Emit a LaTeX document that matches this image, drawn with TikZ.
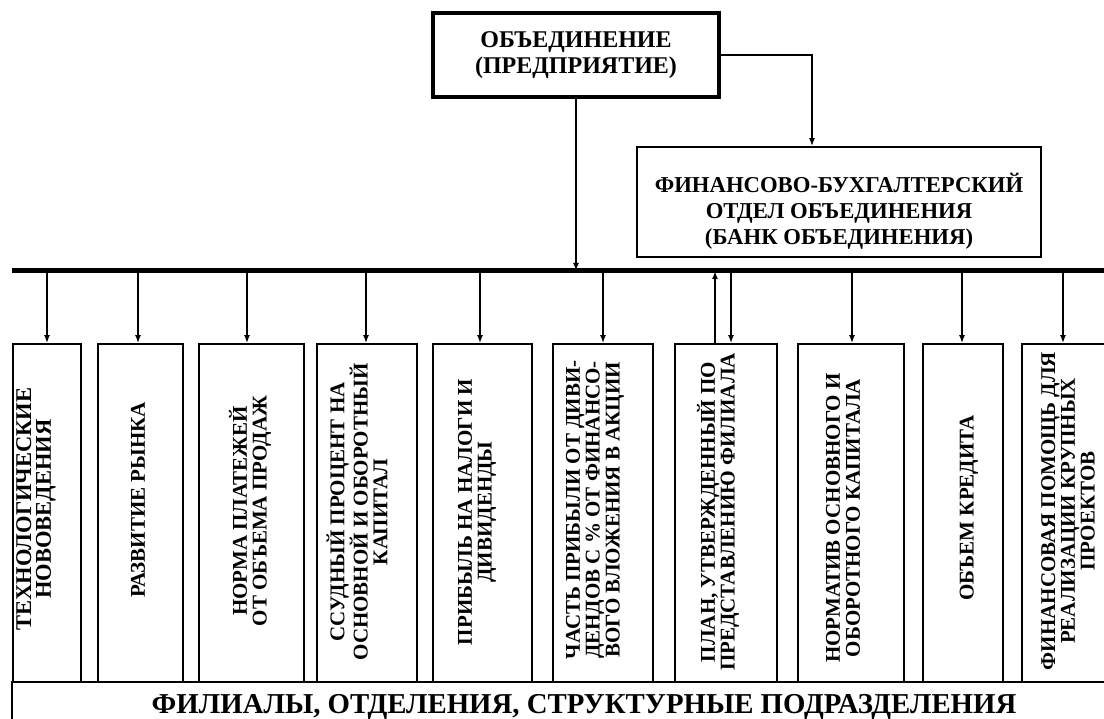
\documentclass[tikz,border=0pt]{standalone}
\usepackage{fontspec}
\setmainfont{Liberation Serif}
\usetikzlibrary{arrows.meta}
\begin{document}
\begin{tikzpicture}[x=1pt,y=-1pt,
  vbox/.style={draw, line width=1.8pt, minimum height=338, inner sep=0},
  vtext/.style={rotate=90, align=center, inner sep=0, font=\bfseries\fontsize{21}{19.8}\selectfont},
  htext/.style={align=center, inner sep=0, font=\bfseries\fontsize{22.7}{26}\selectfont},
  arr/.style={line width=1.8pt, -{Latex[length=8pt,width=6pt]}},
  bus/.style={line width=5pt}
]
\useasboundingbox (0,0) rectangle (1104,719);
\clip (0,0) rectangle (1104,719);

% top boxes
\node (top) [draw, line width=3.5pt, minimum width=286, minimum height=84, htext, font=\bfseries\fontsize{24}{26}\selectfont] at (576,55)
  {ОБЪЕДИНЕНИЕ\\(ПРЕДПРИЯТИЕ)};
\node (fin) [draw, line width=1.8pt, minimum width=404, minimum height=110] at (839,202) {};
\node (fint) [htext] at (839,211) {ФИНАНСОВО-БУХГАЛТЕРСКИЙ\\ОТДЕЛ ОБЪЕДИНЕНИЯ\\(БАНК ОБЪЕДИНЕНИЯ)};

% bus
\coordinate (busL) at (12,271);
\coordinate (busR) at (1110,271);
\draw[bus] (busL) -- (busR);

% bottom box
\node (bot) [draw, line width=2.6pt, minimum width=1138, minimum height=58] at (581,711) {};
\node (bott) [inner sep=0, font=\bfseries\fontsize{28.8}{30}\selectfont] at (584,707)
  {ФИЛИАЛЫ, ОТДЕЛЕНИЯ, СТРУКТУРНЫЕ ПОДРАЗДЕЛЕНИЯ};

% vertical boxes
\node (b1)  [vbox, minimum width=68]  at (47,513) {};
\node (b2)  [vbox, minimum width=85]  at (140.5,513) {};
\node (b3)  [vbox, minimum width=105] at (251.5,513) {};
\node (b4)  [vbox, minimum width=100] at (367,513) {};
\node (b5)  [vbox, minimum width=99]  at (482.5,513) {};
\node (b6)  [vbox, minimum width=100] at (603,513) {};
\node (b7)  [vbox, minimum width=102] at (726,513) {};
\node (b8)  [vbox, minimum width=106] at (851,513) {};
\node (b9)  [vbox, minimum width=80]  at (963,513) {};
\node (b10) [vbox, minimum width=108] at (1076,513) {};

\node (t1)  [vtext, font=\bfseries\fontsize{22.5}{19.8}\selectfont] at (36,509)  {ТЕХНОЛОГИЧЕСКИЕ\\НОВОВЕДЕНИЯ};
\node (t2)  [vtext] at (138,500) {РАЗВИТИЕ РЫНКА};
\node (t3)  [vtext] at (250,511) {НОРМА ПЛАТЕЖЕЙ\\ОТ ОБЪЕМА ПРОДАЖ};
\node (t4)  [vtext] at (357,512) {ССУДНЫЙ ПРОЦЕНТ НА\\ОСНОВНОЙ И ОБОРОТНЫЙ\\КАПИТАЛ};
\node (t5)  [vtext] at (477,512) {ПРИБЫЛЬ НА НАЛОГИ И\\ДИВИДЕНДЫ};
\node (t6)  [vtext] at (595,510) {ЧАСТЬ ПРИБЫЛИ ОТ ДИВИ-\\ДЕНДОВ С \% ОТ ФИНАНСО-\\ВОГО ВЛОЖЕНИЯ В АКЦИИ};
\node (t7)  [vtext] at (718,512) {ПЛАН, УТВЕРЖДЕННЫЙ ПО\\ПРЕДСТАВЛЕНИЮ ФИЛИАЛА};
\node (t8)  [vtext] at (843,518) {НОРМАТИВ ОСНОВНОГО И\\ОБОРОТНОГО КАПИТАЛА};
\node (t9)  [vtext] at (969,508) {ОБЪЕМ КРЕДИТА};
\node (t10) [vtext] at (1068,511) {ФИНАНСОВАЯ ПОМОЩЬ ДЛЯ\\РЕАЛИЗАЦИИ КРУПНЫХ\\ПРОЕКТОВ};

% connectors
\draw[arr] (top.south) -- (top.south |- busL);
\draw[arr] (top.east) -| ([xshift=-27pt]fin.north);

\draw[arr] (b1.north |- busL) -- (b1.north);
\draw[arr] ([xshift=-2.5pt]b2.north |- busL) -- ([xshift=-2.5pt]b2.north);
\draw[arr] ([xshift=-4.5pt]b3.north |- busL) -- ([xshift=-4.5pt]b3.north);
\draw[arr] ([xshift=-1pt]b4.north |- busL) -- ([xshift=-1pt]b4.north);
\draw[arr] ([xshift=-2.5pt]b5.north |- busL) -- ([xshift=-2.5pt]b5.north);
\draw[arr] (b6.north |- busL) -- (b6.north);
\draw[arr] ([xshift=-11pt]b7.north) -- ([xshift=-11pt]b7.north |- busL);
\draw[arr] ([xshift=5pt]b7.north |- busL) -- ([xshift=5pt]b7.north);
\draw[arr] ([xshift=1pt]b8.north |- busL) -- ([xshift=1pt]b8.north);
\draw[arr] ([xshift=-1pt]b9.north |- busL) -- ([xshift=-1pt]b9.north);
\draw[arr] ([xshift=-13pt]b10.north |- busL) -- ([xshift=-13pt]b10.north);
\end{tikzpicture}
\end{document}
